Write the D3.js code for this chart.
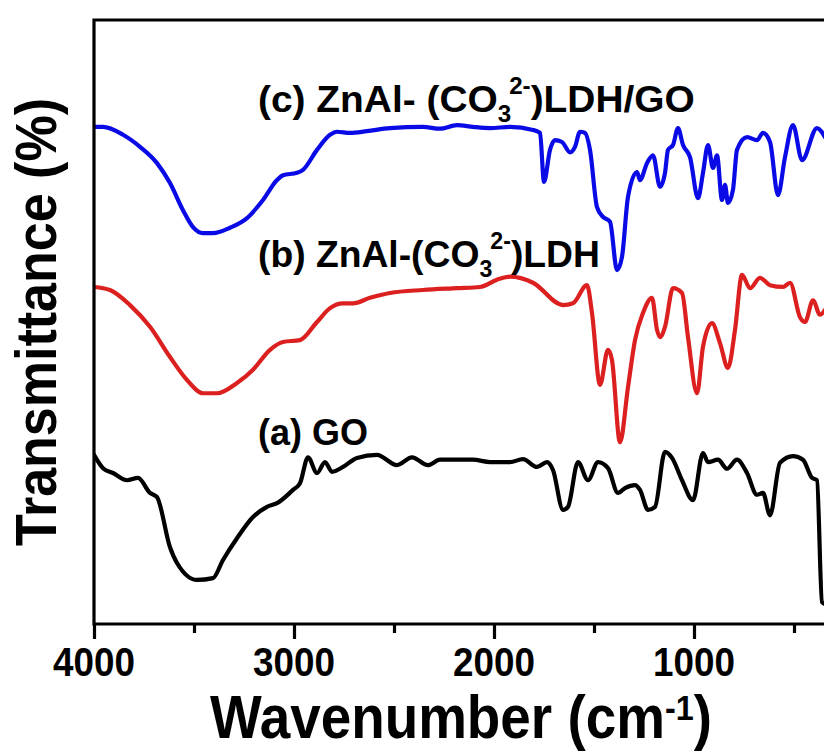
<!DOCTYPE html>
<html>
<head>
<meta charset="utf-8">
<script src="https://cdn.jsdelivr.net/npm/d3@7"></script>
<style>
  html, body { margin: 0; padding: 0; background: #fff; }
  svg { display: block; }
  text { font-family: "Liberation Sans", Arial, sans-serif; font-weight: bold; fill: #000; }
</style>
</head>
<body>
<svg id="chart" width="824" height="755"></svg>
<script>
// FTIR spectra, stacked transmittance (arbitrary offset units) vs wavenumber (cm-1)

// (a) GO
const goWave = [4000,3955,3905,3835,3780,3720,3685,3620,3585,3485,3405,3355,3285,3205,3135,3085,3005,2970,2930,2885,2845,2810,2755,2685,2585,2485,2410,2330,2270,2105,2020,1920,1855,1785,1735,1705,1655,1630,1580,1530,1480,1430,1380,1345,1295,1270,1230,1195,1145,1110,1060,1005,955,930,880,835,785,735,685,655,620,570,505,455,410,385,360,345];
const goT    = [28.0,25.8,25.0,23.8,24.2,21.7,21.0,12.7,10.1,7.3,7.6,10.6,14.2,17.7,19.4,20.0,22.2,23.3,27.6,25.0,26.8,25.2,26.0,27.5,28.0,26.3,27.6,26.3,27.2,27.2,26.8,26.8,27.3,26.0,26.8,25.5,18.9,19.4,26.8,23.8,26.8,25.8,21.7,22.5,23.0,22.2,18.9,19.4,28.5,27.5,23.8,20.5,28.3,26.8,27.2,25.7,27.2,25.0,21.4,21.7,18.0,26.7,27.8,27.2,24.2,23.8,3.6,3.3];

// (b) ZnAl-(CO3 2-) LDH
const ldhWave = [4000,3920,3820,3720,3620,3535,3455,3385,3285,3205,3120,3055,2970,2885,2820,2755,2705,2620,2520,2355,2185,2070,1985,1920,1805,1655,1605,1535,1510,1470,1430,1410,1370,1330,1295,1255,1210,1185,1170,1145,1105,1060,1030,985,955,910,870,830,795,760,720,670,620,555,520,470,445,405,370,345];
const ldhT    = [55.8,55.3,52.8,49.2,44.2,40.4,38.2,38.2,39.9,42.1,45.4,46.7,47.0,50.0,52.3,53.1,53.1,54.0,54.8,55.3,55.6,55.8,57.0,57.5,56.5,52.8,53.1,56.1,51.5,39.6,45.4,43.7,30.1,39.2,47.0,51.5,54.0,48.7,47.5,49.2,55.6,54.8,47.5,38.2,45.9,49.8,46.5,42.4,48.7,57.8,55.6,57.3,56.1,55.8,56.5,50.8,50.0,53.6,51.2,52.0];

// (c) ZnAl-(CO3 2-) LDH/GO
const compWave = [4000,3955,3855,3770,3685,3620,3555,3505,3455,3405,3320,3235,3155,3085,3055,2985,2955,2885,2820,2785,2720,2635,2520,2355,2270,2185,2105,2020,1920,1805,1770,1750,1720,1695,1660,1620,1595,1570,1545,1520,1485,1455,1420,1385,1360,1330,1285,1270,1235,1205,1170,1145,1130,1105,1080,1055,1020,980,955,930,905,885,860,845,830,805,785,735,685,655,620,580,545,505,460,385,345];
const compT    = [82.3,82.3,81.0,79.0,76.3,73.0,68.5,65.7,64.7,64.7,65.6,67.2,70.2,73.5,74.3,74.7,75.2,78.5,81.0,81.5,81.3,81.6,82.1,82.3,82.0,82.6,82.3,82.1,82.3,81.8,81.3,73.2,78.5,80.1,79.8,78.1,79.0,81.5,81.3,78.5,69.0,67.4,66.6,58.6,60.8,70.7,74.8,73.5,76.3,77.6,72.4,74.7,78.5,79.3,82.1,79.3,77.3,70.5,74.7,79.3,75.5,77.6,70.2,72.7,69.7,71.9,78.5,80.6,80.1,81.3,79.8,71.0,77.3,82.6,76.8,82.1,80.6];

const majorTicks = [4000, 3000, 2000, 1000];
const minorTicks = [3500, 2500, 1500, 500];

const series = [
  { name: "go",   wave: goWave,   t: goT,   color: "#000000" },
  { name: "ldh",  wave: ldhWave,  t: ldhT,  color: "#dc1f1f" },
  { name: "comp", wave: compWave, t: compT, color: "#0a0ae6" }
];

// layout
const plotLeft = 94, plotTop = 20, plotBottom = 624, plotRight = 840;

const svg = d3.select("#chart");

const x = d3.scaleLinear().domain([4000, 500]).range([plotLeft, 794]);
const y = d3.scaleLinear().domain([0, 100]).range([plotBottom, plotTop]);

svg.append("defs").append("clipPath").attr("id", "plotClip")
  .append("rect").attr("x", plotLeft).attr("y", plotTop)
  .attr("width", plotRight - plotLeft).attr("height", plotBottom - plotTop);

const line = d3.line()
  .x(d => x(d.w))
  .y(d => y(d.t))
  .curve(d3.curveMonotoneX);

const plot = svg.append("g").attr("clip-path", "url(#plotClip)");
series.forEach(s => {
  const pts = s.wave.map((w, i) => ({ w: w, t: s.t[i] }));
  plot.append("path")
    .datum(pts)
    .attr("fill", "none")
    .attr("stroke", s.color)
    .attr("stroke-width", 4.2)
    .attr("stroke-linejoin", "round")
    .attr("stroke-linecap", "round")
    .attr("d", line);
});

// frame: left, top, bottom
svg.append("path")
  .attr("d", `M${plotRight},${plotTop}H${plotLeft}V${plotBottom}H${plotRight}`)
  .attr("fill", "none").attr("stroke", "#000").attr("stroke-width", 3.2);

// ticks
const axisMajor = d3.axisBottom(x).tickValues(majorTicks).tickSize(15).tickFormat("");
const axisMinor = d3.axisBottom(x).tickValues(minorTicks).tickSize(9).tickFormat("");
[axisMajor, axisMinor].forEach(ax => {
  const g = svg.append("g").attr("transform", `translate(0,${plotBottom})`).call(ax);
  g.select(".domain").remove();
  g.selectAll(".tick line").attr("stroke", "#000").attr("stroke-width", 3.2);
});

// horizontal scale factor that makes a text span a given width
function fitScale(sel, width) {
  return width / sel.node().getBBox().width;
}

// tick labels
majorTicks.forEach(v => {
  const t = svg.append("text")
    .attr("text-anchor", "middle")
    .attr("font-size", 40)
    .text(d3.format("d")(v));
  const s = fitScale(t, 82);
  t.attr("transform", `translate(${x(v)},676) scale(${s},1)`);
});

// x axis title with superscript
{
  const t = svg.append("text").attr("font-size", 61).attr("text-anchor", "start");
  t.append("tspan").text("Wavenumber (cm");
  t.append("tspan").attr("font-size", 36).attr("dy", -18).text("-1");
  t.append("tspan").attr("dy", 18).text(")");
  const s = fitScale(t, 502);
  t.attr("transform", `translate(210,738) scale(${s},1)`);
}

// y axis title
{
  const t = svg.append("text").attr("font-size", 58).attr("text-anchor", "middle")
    .text("Transmittance (%)");
  const s = fitScale(t, 448);
  t.attr("transform", `translate(56,322) rotate(-90) scale(${s},1)`);
}

// curve labels with sub/superscripts
function chemLabel(parts, x0, y0, width) {
  const t = svg.append("text").attr("font-size", 37);
  parts.forEach(p => {
    const ts = t.append("tspan").text(p.text);
    if (p.size) ts.attr("font-size", p.size);
    if (p.dy) ts.attr("dy", p.dy);
    if (p.dx) ts.attr("dx", p.dx);
  });
  const s = fitScale(t, width);
  t.attr("transform", `translate(${x0},${y0}) scale(${s},1)`);
}

chemLabel([
  { text: "(c) ZnAl- (CO" },
  { text: "3", size: 23, dy: 10 },
  { text: "2-", size: 23, dy: -28, dx: -2 },
  { text: ")LDH/GO", dy: 18 }
], 258, 112, 437);

chemLabel([
  { text: "(b) ZnAl-(CO" },
  { text: "3", size: 23, dy: 10 },
  { text: "2-", size: 23, dy: -28, dx: -2 },
  { text: ")LDH", dy: 18 }
], 258, 267, 342);

chemLabel([
  { text: "(a) GO" }
], 258, 445, 110);
</script>
</body>
</html>
